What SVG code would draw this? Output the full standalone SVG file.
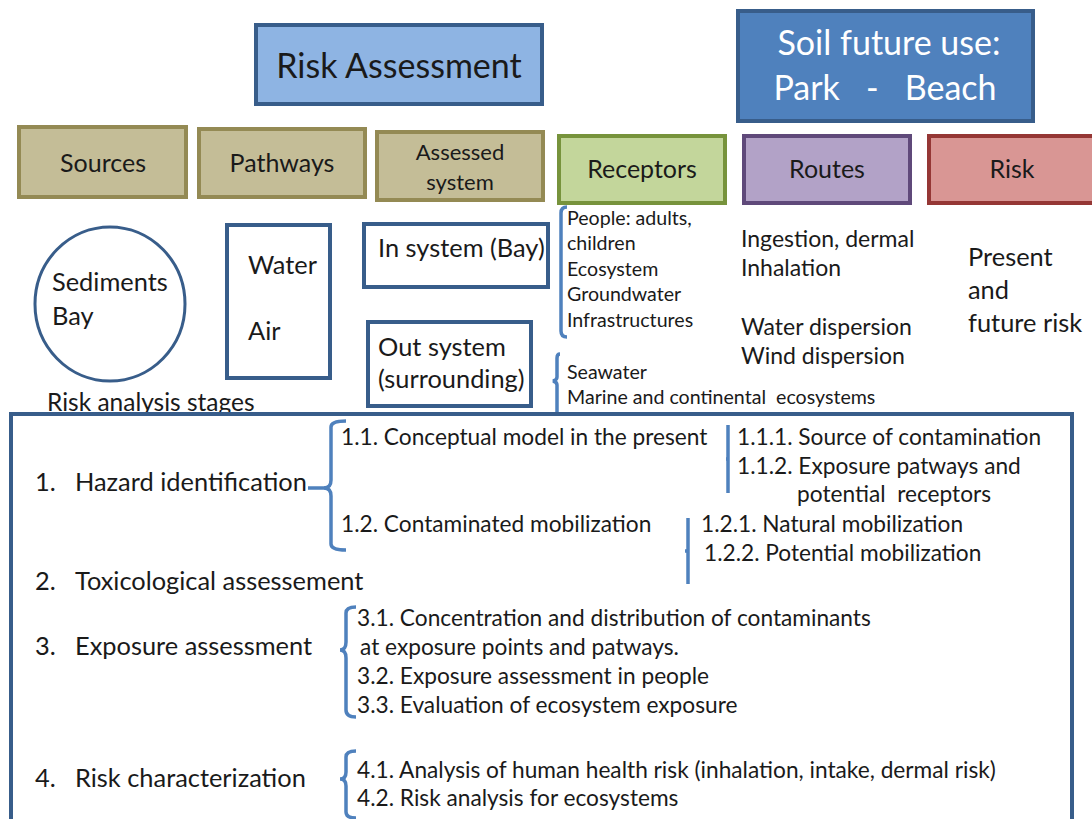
<svg xmlns="http://www.w3.org/2000/svg" width="1092" height="819" viewBox="0 0 1092 819">
<style>
text{font-family:Lato,"Open Sans","Liberation Sans",sans-serif;fill:#1a1a1a}
.hdr{font-size:25px;text-anchor:middle}
.big{font-size:34px}
.br{fill:none;stroke:#4f81bd;stroke-width:3.5}
.ob{fill:#fff;stroke:#385d8a;stroke-width:4}
.s17{font-size:19.6px}
.s20{font-size:23px}
.s22{font-size:25.4px}
.s19{font-size:22.7px}
</style>
<rect width="1092" height="819" fill="#fff"/>
<g id="risk-assessment">
<rect x="256" y="25" width="286" height="79" fill="#8eb4e3" stroke="#385d8a" stroke-width="4"/>
<text x="399" y="78" class="big" text-anchor="middle">Risk Assessment</text>
</g>
<g id="soil-future">
<rect x="738" y="11" width="295" height="110" fill="#4f81bd" stroke="#385d8a" stroke-width="4"/>
<text x="889" y="55" class="big" text-anchor="middle" style="fill:#fff">Soil future use:</text>
<text x="885" y="100" class="big" text-anchor="middle" style="fill:#fff" xml:space="preserve">Park   -   Beach</text>
</g>
<g id="sources">
<rect x="19" y="127" width="167" height="70" fill="#c4bd97" stroke="#948a54" stroke-width="4"/>
<text x="103" y="172" class="hdr">Sources</text>
</g>
<g id="pathways">
<rect x="199" y="129" width="166" height="68" fill="#c4bd97" stroke="#948a54" stroke-width="4"/>
<text x="282" y="172" class="hdr">Pathways</text>
</g>
<g id="assessed-system">
<rect x="377" y="132" width="166" height="68" fill="#c4bd97" stroke="#948a54" stroke-width="4"/>
<text x="460" y="160" class="hdr" style="font-size:22px">Assessed</text>
<text x="460" y="190" class="hdr" style="font-size:22px">system</text>
</g>
<g id="receptors">
<rect x="559" y="136" width="166" height="67" fill="#c3d69b" stroke="#77933c" stroke-width="4"/>
<text x="642" y="178" class="hdr">Receptors</text>
</g>
<g id="routes">
<rect x="744" y="136" width="166" height="67" fill="#b2a2c7" stroke="#5f497a" stroke-width="4"/>
<text x="827" y="178" class="hdr">Routes</text>
</g>
<g id="risk">
<rect x="929" y="136" width="170" height="67" fill="#d99694" stroke="#953735" stroke-width="4"/>
<text x="1012" y="178" class="hdr">Risk</text>
</g>
<g id="sediments-bay">
<ellipse cx="110" cy="304" rx="75" ry="77" fill="#fff" stroke="#385d8a" stroke-width="3"/>
<text x="52" y="291" class="s22">Sediments</text>
<text x="52" y="325" class="s22">Bay</text>
</g>
<g id="water-air">
<rect x="227" y="225" width="103" height="153" class="ob"/>
<text x="248" y="274" class="s22">Water</text>
<text x="248" y="340" class="s22">Air</text>
</g>
<g id="in-system">
<rect x="364" y="224" width="184" height="63" class="ob"/>
<text x="378" y="257" class="s22">In system (Bay)</text>
</g>
<g id="out-system">
<rect x="368" y="322" width="163" height="84" class="ob"/>
<text x="378" y="356" class="s22">Out system</text>
<text x="378" y="388" class="s22">(surrounding)</text>
</g>
<g id="receptor-list">
<text x="567" y="225" class="s17">People: adults,</text>
<text x="567" y="250" class="s17">children</text>
<text x="567" y="276" class="s17">Ecosystem</text>
<text x="567" y="301" class="s17">Groundwater</text>
<text x="567" y="327" class="s17">Infrastructures</text>
<text x="567" y="379" class="s17">Seawater</text>
<text x="567" y="404" class="s17" xml:space="preserve">Marine and continental  ecosystems</text>
</g>
<g id="routes-list">
<text x="741" y="247" class="s20">Ingestion, dermal</text>
<text x="741" y="276" class="s20">Inhalation</text>
<text x="741" y="335" class="s20">Water dispersion</text>
<text x="741" y="364" class="s20">Wind dispersion</text>
</g>
<g id="risk-list">
<text x="968" y="266" class="s22">Present</text>
<text x="968" y="299" class="s22">and</text>
<text x="968" y="332" class="s22">future risk</text>
</g>
<text x="47" y="411" style="font-size:24.5px">Risk analysis stages</text>
<g id="stages">
<rect x="11" y="414" width="1061" height="420" fill="none" stroke="#385d8a" stroke-width="4"/>
<text x="35" y="491" class="s22">1.</text>
<text x="75" y="491" class="s22">Hazard identification</text>
<text x="35" y="590" class="s22">2.</text>
<text x="75" y="590" class="s22">Toxicological assessement</text>
<text x="35" y="655" class="s22">3.</text>
<text x="75" y="655" class="s22">Exposure assessment</text>
<text x="35" y="787" class="s22">4.</text>
<text x="75" y="787" class="s22">Risk characterization</text>
<text x="341" y="445" class="s19">1.1. Conceptual model in the present</text>
<text x="341" y="532" class="s19">1.2. Contaminated mobilization</text>
<text x="737" y="445" class="s19">1.1.1. Source of contamination</text>
<text x="737" y="474" class="s19">1.1.2. Exposure patways and</text>
<text x="797" y="502" class="s19" xml:space="preserve">potential  receptors</text>
<text x="701" y="532" class="s19">1.2.1. Natural mobilization</text>
<text x="704" y="561" class="s19">1.2.2. Potential mobilization</text>
<text x="357" y="626" class="s19">3.1. Concentration and distribution of contaminants</text>
<text x="360" y="655" class="s19">at exposure points and patways.</text>
<text x="357" y="684" class="s19">3.2. Exposure assessment in people</text>
<text x="357" y="713" class="s19">3.3. Evaluation of ecosystem exposure</text>
<text x="357" y="778" class="s19">4.1. Analysis of human health risk (inhalation, intake, dermal risk)</text>
<text x="357" y="806" class="s19">4.2. Risk analysis for ecosystems</text>
</g>
<g id="connectors">
<path class="br" d="M567,207 Q561,207 561,213 L561,331 Q561,337 567,337"/>
<path class="br" d="M560,354 Q557,354 557,358 L557,377 Q557,380 553,381 Q557,382 557,385 L557,412"/>
<path class="br" d="M308,488 L324,488 Q331,488 331,480 L331,427 Q331,421 346,421"/>
<path class="br" d="M324,488 Q331,488 331,496 L331,544 Q331,550 346,550"/>
<path class="br" d="M728,425 L728,493 M728,459 L726,459"/>
<path class="br" d="M688,518 L688,584 M688,551 L685,551"/>
<path class="br" d="M356,607 Q346,607 346,613 L346,642 Q346,650 340,650 Q346,650 346,658 L346,710 Q346,717 356,717"/>
<path class="br" d="M356,751 Q346,751 346,757 L346,772 Q346,779 340,779 Q346,779 346,786 L346,812 Q346,818 356,818"/>
</g>
</svg>
